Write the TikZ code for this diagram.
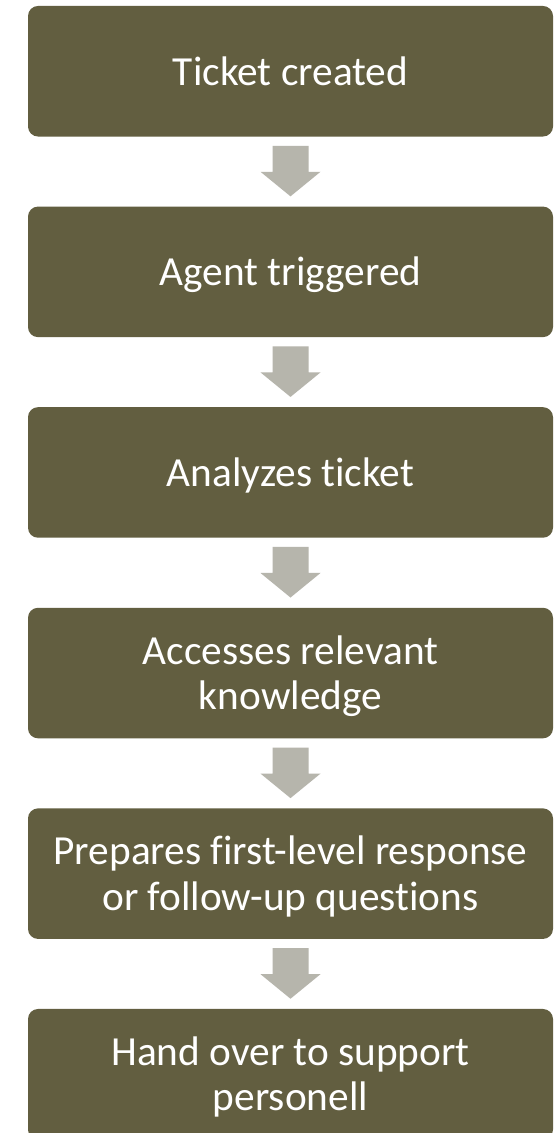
\documentclass[tikz,border=0pt]{standalone}
\usepackage{fontspec}
\setmainfont{Carlito}[Ligatures={NoCommon}]
\usetikzlibrary{calc}

\definecolor{stepfill}{RGB}{98,94,64}
\definecolor{arrowgray}{RGB}{182,181,172}

% uniform line box so one- and two-line labels sit alike
\newcommand{\lnstrut}{\rule[-6.5pt]{0pt}{34pt}}

\tikzset{
  stepbox/.style={
    fill=stepfill, draw=none, rounded corners=7.5pt,
    minimum width=393.75pt, minimum height=97.9pt,
    inner sep=0pt, align=center, text=white,
    font=\fontsize{31}{34}\selectfont
  },
  flowarrow/.style={fill=arrowgray, draw=none}
}

\begin{document}
\begin{tikzpicture}[x=0.75pt,y=-0.75pt]
  \useasboundingbox (0,0) rectangle (560,1133);
  \clip (0,0) rectangle (560,1133);
  \fill[white] (0,0) rectangle (560,1133);

  \node[stepbox] (b1) at (290.5,71.25)   {Ticket created\lnstrut};
  \node[stepbox] (b2) at (290.5,271.85)  {Agent triggered\lnstrut};
  \node[stepbox] (b3) at (290.5,472.45)  {Analyzes ticket\lnstrut};
  \node[stepbox] (b4) at (290.5,673.05)  {Accesses relevant\lnstrut\\knowledge\lnstrut};
  \node[stepbox] (b5) at (290.5,873.65)  {Prepares first-level response\lnstrut\\or follow-up questions\lnstrut};
  \node[stepbox] (b6) at (290.5,1074.25) {Hand over to support\lnstrut\\personell\lnstrut};

  % block arrows between consecutive steps
  \foreach \a/\b in {b1/b2,b2/b3,b3/b4,b4/b5,b5/b6}{
    \fill[flowarrow]
      ($(\a.south)+(-18,9)$) -- ($(\a.south)+(18,9)$) --
      ($(\a.south)+(18,35)$) -- ($(\a.south)+(30,35)$) --
      ($(\b.north)+(0,-10)$) --
      ($(\a.south)+(-30,35)$) -- ($(\a.south)+(-18,35)$) -- cycle;
  }
\end{tikzpicture}
\end{document}
